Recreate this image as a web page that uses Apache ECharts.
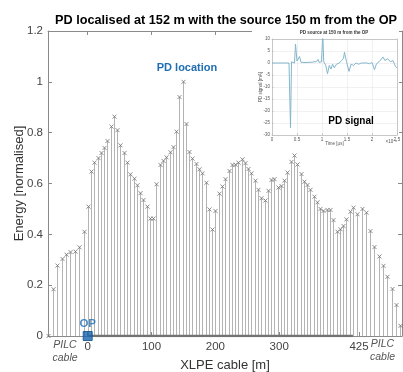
<!DOCTYPE html>
<html>
<head>
<meta charset="utf-8">
<script src="https://cdn.jsdelivr.net/npm/echarts@6/dist/echarts.min.js"></script>
<style>
  html, body { margin: 0; padding: 0; background: #fff; }
  #chart { width: 403px; height: 372px; }
</style>
</head>
<body>
<div id="chart"></div>
<script>
// normalised energy of each localisation sample
var pilcLeft = [0, 0.184, 0.277, 0.303, 0.32, 0.33, 0.332, 0.349, 0.41];
var xlpe = [
  0.509, 0.647, 0.682, 0.70, 0.72, 0.74, 0.767, 0.824, 0.863, 0.81,
  0.75, 0.72, 0.682, 0.636, 0.619, 0.593, 0.562, 0.535, 0.509, 0.462,
  0.462, 0.597, 0.673, 0.689, 0.703, 0.723, 0.743, 0.804, 0.94, 1.0,
  0.834, 0.724, 0.698, 0.677, 0.656, 0.64, 0.603, 0.498, 0.419, 0.492,
  0.56, 0.588, 0.617, 0.649, 0.673, 0.674, 0.682, 0.695, 0.68, 0.657,
  0.64, 0.611, 0.575, 0.542, 0.533, 0.571, 0.614, 0.617, 0.584, 0.59,
  0.611, 0.643, 0.685, 0.71, 0.675, 0.637, 0.607, 0.594, 0.575, 0.548,
  0.526, 0.50, 0.492, 0.496, 0.496, 0.456, 0.41, 0.42, 0.433, 0.459,
  0.489, 0.505
];
var pilcRight = [0.479, 0.50, 0.485, 0.413, 0.35, 0.313, 0.276, 0.233, 0.185, 0.122, 0.04];

// sample distances [m]
var pilcLeftStart = -61.7, pilcLeftStep = 6.89;
var xlpeStep = 5.13;
var pilcRightStart = 422.3, pilcRightStep = 6.74;
var xTicks = [0, 100, 200, 300, 425];

// inset: PD signal, time [us] and current [mA]
var sigTime = [0, 0.34, 0.36, 0.37, 0.39, 0.42, 0.45, 0.47, 0.5, 0.525,
  0.55, 0.58, 0.62, 0.66, 0.7, 0.76, 0.82, 0.89, 0.92, 0.94,
  0.99, 1.015, 1.035, 1.075, 1.11, 1.145, 1.18, 1.21, 1.245, 1.29,
  1.345, 1.39, 1.43, 1.45, 1.49, 1.54, 1.58, 1.63, 1.68, 1.73,
  1.79, 1.83, 1.9, 1.95, 2.0, 2.05, 2.09, 2.14, 2.18, 2.22,
  2.26, 2.31, 2.37, 2.42, 2.47, 2.5];
var sigValue = [0, 0, 0, -27, 0.5, 1, 0, 7.9, 0.8, 0.5,
  2.7, 0.3, 0.8, 0.2, 0.5, 0.3, 0.4, 0.6, 1.5, 0.3,
  0.5, 12, 0.5, -1, -4.5, -1, -2.5, -0.5, -2, -0.5,
  0, 1, 2, 4.5, 0.5, -3.5, -0.5, -1, 0, -0.5,
  0, -0.5, 0, -0.3, 0.2, -2.8, -0.3, 0.5, 1, 2.5,
  1, 1.8, 0.5, 1, -1.5, -2];

var stems = [];
pilcLeft.forEach(function(v, i) { stems.push([pilcLeftStart + i * pilcLeftStep, v]); });
xlpe.forEach(function(v, i) { stems.push([i * xlpeStep, v]); });
pilcRight.forEach(function(v, i) { stems.push([pilcRightStart + i * pilcRightStep, v]); });
var xlpeEnd = (xlpe.length - 1) * xlpeStep;

var signal = sigTime.map(function(t, i) { return [t, sigValue[i]]; });

var FONT = 'Arial, "Liberation Sans", sans-serif';
var BLUE = '#1f6db3';

function renderStem(params, api) {
  var top = api.coord([api.value(0), api.value(1)]);
  var base = api.coord([api.value(0), 0]);
  var x = Math.round(top[0]) + 0.5;
  var s = 2;
  return {
    type: 'group',
    children: [
      { type: 'line', shape: { x1: x, y1: base[1], x2: x, y2: top[1] },
        style: { stroke: '#b3b3b3', lineWidth: 1 } },
      { type: 'line', shape: { x1: x - s, y1: top[1] - s, x2: x + s, y2: top[1] + s },
        style: { stroke: '#6f6f6f', lineWidth: 0.8 } },
      { type: 'line', shape: { x1: x - s, y1: top[1] + s, x2: x + s, y2: top[1] - s },
        style: { stroke: '#6f6f6f', lineWidth: 0.8 } }
    ]
  };
}

var axisLine = { show: true, onZero: false, lineStyle: { color: '#8a8a8a', width: 1 } };
var tickIn = { show: true, inside: true, length: 4, lineStyle: { color: '#8a8a8a' } };
var inLine = { show: true, onZero: false, lineStyle: { color: '#bdbdbd', width: 0.8 } };

var chart = echarts.init(document.getElementById('chart'));
chart.setOption({
  animation: false,
  backgroundColor: '#fff',
  grid: [
    { left: 48, right: 1, top: 31, bottom: 36, outerBoundsMode: 'none', containLabel: false },
    { left: 272, top: 39, width: 125, height: 96, outerBoundsMode: 'none', containLabel: false }
  ],
  xAxis: [
    {
      type: 'value', gridIndex: 0, min: -62.2, max: 492.4,
      name: 'XLPE cable [m]', nameLocation: 'middle', nameGap: 23, nameMoveOverlap: false,
      nameTextStyle: { fontFamily: FONT, fontSize: 13, color: '#333' },
      axisLine: axisLine,
      axisTick: { show: true, inside: true, length: 4, customValues: xTicks, lineStyle: { color: '#8a8a8a' } },
      axisLabel: { customValues: xTicks, fontFamily: FONT, fontSize: 11.5, color: '#444', margin: 5 },
      splitLine: { show: false }
    },
    {
      type: 'value', gridIndex: 0, position: 'top', min: -62.2, max: 492.4,
      axisLine: axisLine,
      axisTick: { show: true, inside: true, length: 4, customValues: xTicks, lineStyle: { color: '#8a8a8a' } },
      axisLabel: { show: false },
      splitLine: { show: false }
    },
    {
      type: 'value', gridIndex: 1, min: 0, max: 2.5, interval: 0.5, z: 60,
      name: 'Time [\u00b5s]', nameLocation: 'middle', nameGap: 6, nameMoveOverlap: false,
      nameTextStyle: { fontFamily: FONT, fontSize: 4.5, color: '#555' },
      axisLine: inLine,
      axisTick: { show: true, inside: true, length: 1.5, lineStyle: { color: '#bdbdbd' } },
      axisLabel: { fontFamily: FONT, fontSize: 4.5, color: '#555', margin: 2 },
      splitLine: { show: true, lineStyle: { color: '#e8e8e8', width: 0.6 } }
    },
    {
      type: 'value', gridIndex: 1, position: 'top', min: 0, max: 2.5, z: 60,
      axisLine: inLine, axisTick: { show: false }, axisLabel: { show: false }, splitLine: { show: false }
    }
  ],
  yAxis: [
    {
      type: 'value', gridIndex: 0, min: 0, max: 1.2, interval: 0.2,
      name: 'Energy [normalised]', nameLocation: 'middle', nameGap: 22, nameMoveOverlap: false,
      nameTextStyle: { fontFamily: FONT, fontSize: 13, color: '#333' },
      axisLine: axisLine, axisTick: tickIn,
      axisLabel: { fontFamily: FONT, fontSize: 11.5, color: '#444', margin: 5 },
      splitLine: { show: false }
    },
    {
      type: 'value', gridIndex: 0, position: 'right', min: 0, max: 1.2, interval: 0.2,
      axisLine: axisLine, axisTick: tickIn,
      axisLabel: { show: false }, splitLine: { show: false }
    },
    {
      type: 'value', gridIndex: 1, min: -30, max: 10, interval: 5, z: 60,
      name: 'PD signal [mA]', nameLocation: 'middle', nameGap: 9, nameMoveOverlap: false,
      nameTextStyle: { fontFamily: FONT, fontSize: 4.5, color: '#555' },
      axisLine: inLine,
      axisTick: { show: true, inside: true, length: 1.5, lineStyle: { color: '#bdbdbd' } },
      axisLabel: { fontFamily: FONT, fontSize: 4.5, color: '#555', margin: 2 },
      splitLine: { show: true, lineStyle: { color: '#e8e8e8', width: 0.6 } }
    },
    {
      type: 'value', gridIndex: 1, position: 'right', min: -30, max: 10, z: 60,
      axisLine: inLine, axisTick: { show: false }, axisLabel: { show: false }, splitLine: { show: false }
    }
  ],
  series: [
    {
      type: 'custom', xAxisIndex: 0, yAxisIndex: 0,
      renderItem: renderStem, data: stems, z: 2
    },
    {
      type: 'line', xAxisIndex: 0, yAxisIndex: 0, symbol: 'none',
      data: [[0, 0], [xlpeEnd, 0]],
      lineStyle: { color: '#737373', width: 2.5 }, z: 3
    },
    {
      type: 'scatter', xAxisIndex: 0, yAxisIndex: 0,
      data: [[0, 0]], symbol: 'rect', symbolSize: 9,
      itemStyle: { color: '#1565b0', borderColor: '#0e4a85', borderWidth: 1 },
      label: { show: true, position: 'top', distance: 1, formatter: 'OP',
        fontFamily: FONT, fontWeight: 'bold', fontSize: 11.5, color: BLUE },
      z: 5
    },
    {
      type: 'line', xAxisIndex: 2, yAxisIndex: 2, symbol: 'none',
      data: signal, lineStyle: { color: '#84b6cb', width: 1 }, z: 61
    }
  ],
  graphic: [
    { type: 'rect', z: 50, shape: { x: 252, y: 26, width: 147, height: 122 },
      style: { fill: '#fff' } },
    { type: 'text', z: 62, x: 334, y: 33,
      style: { text: 'PD source at 150 m from the OP', font: 'bold 4.5px ' + FONT,
        fill: '#333', align: 'center', verticalAlign: 'middle' } },
    { type: 'text', z: 62, x: 397, y: 142,
      style: { text: '\u00d710\u207b\u2076', font: '4.5px ' + FONT,
        fill: '#555', align: 'right', verticalAlign: 'middle' } },
    { type: 'text', z: 62, x: 351, y: 121,
      style: { text: 'PD signal', font: 'bold 10px ' + FONT,
        fill: '#000', align: 'center', verticalAlign: 'middle' } },
    { type: 'text', x: 226, y: 20,
      style: { text: 'PD localised at 152 m with the source 150 m from the OP',
        font: 'bold 12.7px ' + FONT, fill: '#000', align: 'center', verticalAlign: 'middle' } },
    { type: 'text', x: 187, y: 67.5,
      style: { text: 'PD location', font: 'bold 11px ' + FONT,
        fill: BLUE, align: 'center', verticalAlign: 'middle' } },
    { type: 'text', x: 65, y: 351.5,
      style: { text: 'PILC\ncable', font: 'italic 10.5px ' + FONT, lineHeight: 13,
        fill: '#555', align: 'center', verticalAlign: 'middle' } },
    { type: 'text', x: 382.5, y: 351,
      style: { text: 'PILC\ncable', font: 'italic 10.5px ' + FONT, lineHeight: 13,
        fill: '#555', align: 'center', verticalAlign: 'middle' } }
  ]
});
</script>
</body>
</html>
